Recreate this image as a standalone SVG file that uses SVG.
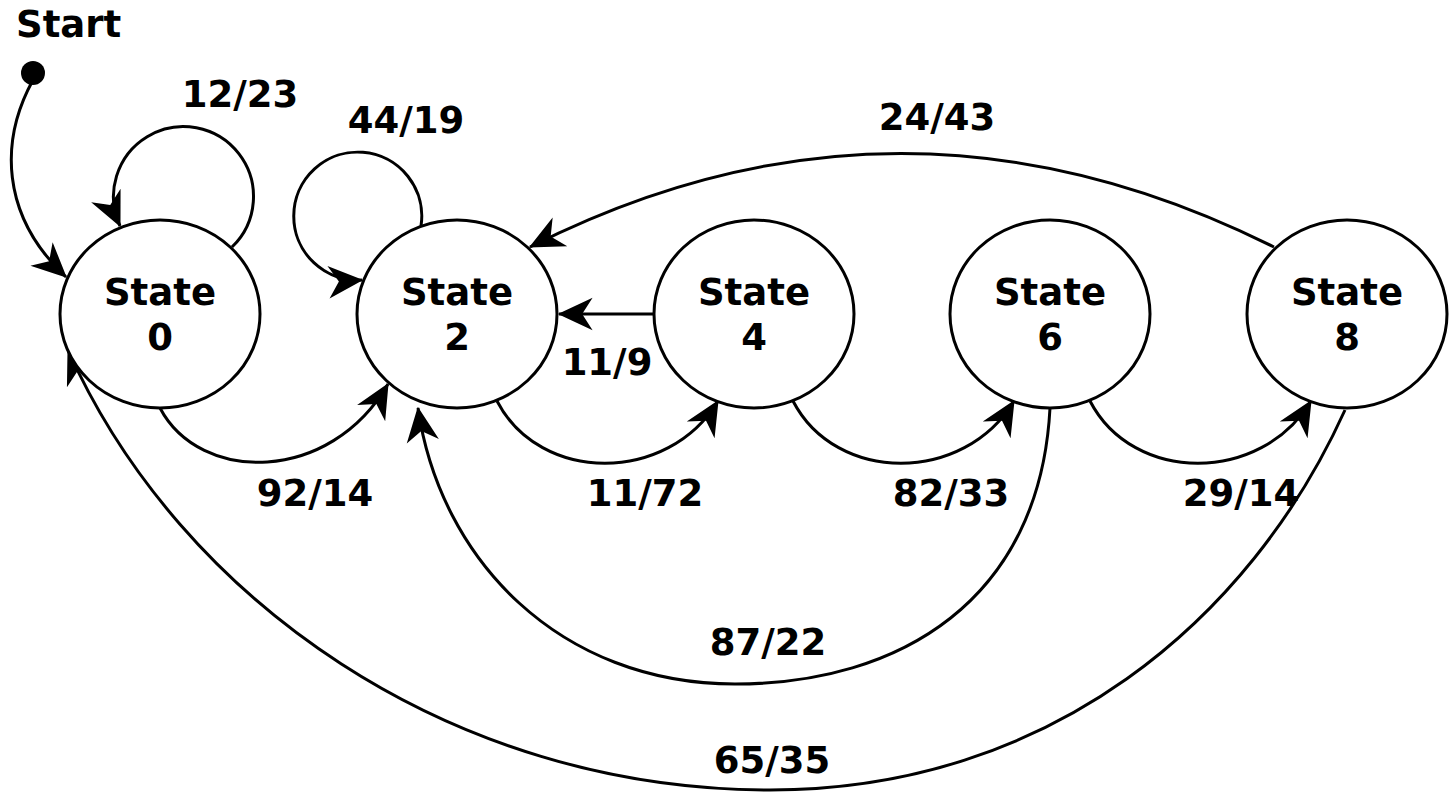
<svg xmlns="http://www.w3.org/2000/svg" width="1453" height="792" viewBox="0 0 1453 792">
  <style>
    .state { fill: #fff; stroke: #000; stroke-width: 3; }
    .edge { fill: none; stroke: #000; stroke-width: 3; marker-end: url(#arrow); }
    text { font-family: "DejaVu Sans", sans-serif; font-weight: bold; font-size: 37px; fill: #000; }
    .c { text-anchor: middle; }
  </style>
  <defs>
    <marker id="arrow" markerUnits="userSpaceOnUse" markerWidth="44" markerHeight="44" viewBox="-34 -17 38 34" refX="0" refY="0" orient="auto">
      <path d="M1,0 L-29,-14 L-20,0 L-29,14 Z" fill="#000"/>
    </marker>
  </defs>

  <rect width="1453" height="792" fill="#fff"/>

  <!-- transitions -->
  <g id="connectors">
    <path class="edge" d="M33,80 C 0,140 0,215 66,277"/>
    <path class="edge" d="M232,247 A70,70 0 1 0 120,226"/>
    <path class="edge" d="M421,226 A64,64 0 1 0 362,280"/>
    <path class="edge" d="M1274,247 Q 900,60 530,247"/>
    <path class="edge" d="M655,314 L559,314"/>
    <path class="edge" d="M160,408 C 200,484 330,484 388,384"/>
    <path class="edge" d="M497,401 C 540,484 668,484 718,401"/>
    <path class="edge" d="M793,401 C 836,484 964,484 1014,401"/>
    <path class="edge" d="M1090,401 C 1133,484 1261,484 1311,401"/>
    <path class="edge" d="M1050,408 C 1040,600 900,684 735,684 C 560,684 440,560 418,408"/>
    <path class="edge" d="M1345,410 C 1250,620 1050,790 770,790 C 450,790 180,600 68,350"/>
  </g>

  <g id="labels">
    <text x="240" y="107" class="c">12/23</text>
    <text x="406" y="133" class="c">44/19</text>
    <text x="937" y="130" class="c">24/43</text>
    <text x="607" y="375" class="c">11/9</text>
    <text x="315" y="506" class="c">92/14</text>
    <text x="645" y="506" class="c">11/72</text>
    <text x="951" y="506" class="c">82/33</text>
    <text x="1241" y="506" class="c">29/14</text>
    <text x="768" y="655" class="c">87/22</text>
    <text x="772" y="773" class="c">65/35</text>
  </g>

  <g id="start">
    <text x="16" y="37">Start</text>
    <circle cx="33" cy="73" r="12" fill="#000"/>
  </g>

  <g id="state0">
    <ellipse class="state" cx="160" cy="314" rx="100" ry="94"/>
    <text x="160" y="305" class="c">State</text>
    <text x="160" y="350" class="c">0</text>
  </g>
  <g id="state2">
    <ellipse class="state" cx="457" cy="314" rx="100" ry="94"/>
    <text x="457" y="305" class="c">State</text>
    <text x="457" y="350" class="c">2</text>
  </g>
  <g id="state4">
    <ellipse class="state" cx="754" cy="314" rx="100" ry="94"/>
    <text x="754" y="305" class="c">State</text>
    <text x="754" y="350" class="c">4</text>
  </g>
  <g id="state6">
    <ellipse class="state" cx="1050" cy="314" rx="100" ry="94"/>
    <text x="1050" y="305" class="c">State</text>
    <text x="1050" y="350" class="c">6</text>
  </g>
  <g id="state8">
    <ellipse class="state" cx="1347" cy="314" rx="100" ry="94"/>
    <text x="1347" y="305" class="c">State</text>
    <text x="1347" y="350" class="c">8</text>
  </g>
</svg>
